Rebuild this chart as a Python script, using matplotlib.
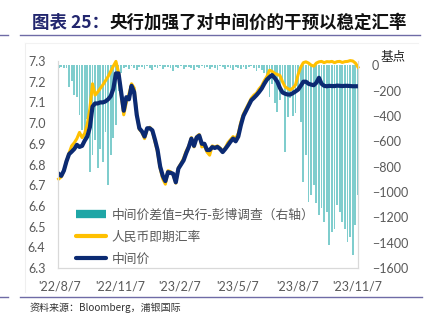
import matplotlib
matplotlib.use("Agg")
import matplotlib.pyplot as plt
from matplotlib.lines import Line2D
import pandas as pd

plt.rcParams['font.family'] = ['Noto Sans CJK SC', 'DejaVu Sans']

# data sampled every 4 days, 2022-08-05 .. 2023-11-08
dates = pd.date_range('2022-08-05', periods=116, freq='4D')

# 中间价 (CNY central parity)
fixing = [
    6.755, 6.745, 6.770, 6.815, 6.850, 6.862, 6.875, 6.895, 6.885, 6.890,
    6.915, 6.935, 6.980, 7.080, 7.095, 7.095, 7.100, 7.100, 7.105, 7.115,
    7.130, 7.165, 7.240, 7.240, 7.150, 7.060, 7.125, 7.115, 7.180, 7.150,
    7.040, 6.975, 6.960, 6.935, 6.975, 6.975, 6.965, 6.920, 6.870, 6.790,
    6.745, 6.720, 6.763, 6.760, 6.755, 6.714, 6.780, 6.800, 6.820, 6.855,
    6.885, 6.925, 6.890, 6.930, 6.940, 6.900, 6.900, 6.870, 6.870, 6.884,
    6.880, 6.885, 6.875, 6.860, 6.875, 6.892, 6.910, 6.925, 6.912, 6.935,
    6.990, 7.035, 7.060, 7.085, 7.110, 7.122, 7.135, 7.150, 7.167, 7.190,
    7.210, 7.222, 7.232, 7.218, 7.200, 7.170, 7.148, 7.142, 7.138, 7.138,
    7.145, 7.153, 7.162, 7.180, 7.200, 7.200, 7.190, 7.186, 7.183, 7.195,
    7.219, 7.190, 7.180, 7.178, 7.180, 7.179, 7.179, 7.181, 7.180, 7.179,
    7.180, 7.180, 7.179, 7.178, 7.178, 7.178,
]

# 人民币即期汇率 (CNY spot)
spot = [
    6.730, 6.740, 6.770, 6.815, 6.855, 6.890, 6.905, 6.925, 6.955, 6.930,
    6.950, 6.995, 7.070, 7.190, 7.135, 7.150, 7.168, 7.185, 7.205, 7.225,
    7.250, 7.275, 7.298, 7.245, 7.140, 7.040, 7.100, 7.140, 7.190, 7.170,
    7.045, 6.970, 6.955, 6.925, 6.970, 6.980, 6.960, 6.910, 6.860, 6.780,
    6.730, 6.705, 6.770, 6.765, 6.750, 6.710, 6.785, 6.805, 6.830, 6.865,
    6.890, 6.930, 6.885, 6.935, 6.945, 6.885, 6.890, 6.860, 6.845, 6.890,
    6.885, 6.890, 6.880, 6.865, 6.880, 6.905, 6.920, 6.935, 6.925, 6.950,
    7.005, 7.045, 7.070, 7.095, 7.120, 7.135, 7.145, 7.165, 7.180, 7.205,
    7.225, 7.255, 7.250, 7.240, 7.235, 7.230, 7.200, 7.175, 7.167, 7.160,
    7.170, 7.185, 7.235, 7.270, 7.292, 7.296, 7.290, 7.280, 7.275, 7.290,
    7.296, 7.298, 7.292, 7.297, 7.296, 7.298, 7.292, 7.297, 7.298, 7.293,
    7.297, 7.298, 7.302, 7.300, 7.290, 7.270,
]

# 中间价差值 = 央行 - 彭博调查 (bp, right axis)
gap = [
    -18, -12, -20, -25, -170, -120, -235, -248, -390, -510,
    -590, -420, -840, -710, -590, -814, -660, -765, -530, -946,
    -710, -575, -470, -200, -60, -25, -12, -30, -8, -20,
    -35, -10, -15, -28, -5, -18, -40, -12, -22, -8,
    -30, -15, -10, -25, -45, -12, -20, -8, -32, -15,
    -10, -22, -38, -12, -18, -6, -25, -14, -30, -10,
    -20, -35, -8, -16, -28, -12, -22, -40, -10, -18,
    -26, -12, -30, -15, -8, -24, -45, -20, -35, -60,
    -110, -248, -150, -300, -367, -274, -120, -683, -406, -260,
    -400, -375, -200, -445, -920, -709, -1078, -1020, -946, -1090,
    -1183, -1130, -1236, -1155, -1420, -1315, -1290, -1105, -1155, -1236,
    -1290, -1393, -1355, -1499, -1263, -1020,
]

tick_dates = pd.to_datetime(['2022-08-07', '2022-11-07', '2023-02-07',
                             '2023-05-07', '2023-08-07', '2023-11-07'])
tick_labels = ["'22/8/7", "'22/11/7", "'23/2/7", "'23/5/7", "'23/8/7", "'23/11/7"]

NAVY = '#0B2A72'
GOLD = '#FFC000'
TEAL = '#1FA6A6'
BAR = '#5FC1C1'
GRAY = '#595959'
num_font = 'Lato'

fig = plt.figure(figsize=(4.28, 3.22), dpi=100)
ax = fig.add_axes([58 / 428, 54 / 322, 300 / 428, 207 / 322])
ax2 = ax.twinx()
ax2.set_zorder(ax.get_zorder() - 1)
ax.patch.set_visible(False)

ax2.bar(dates, gap, width=2.8, color=BAR, alpha=0.8, linewidth=0)
ax2.set_ylim(-1600, 34)
ax2.set_yticks(range(-1600, 1, 200))

ax.plot(dates, spot, color=GOLD, lw=2.2, solid_joinstyle='round', clip_on=False)
ax.plot(dates, fixing, color=NAVY, lw=3.0, solid_joinstyle='round')
ax.set_ylim(6.3, 7.3)
ax.set_yticks([6.3 + 0.1 * k for k in range(11)])
ax.set_yticklabels([f'{6.3 + 0.1 * k:.1f}' for k in range(11)])
ax.set_xlim(pd.Timestamp('2022-08-04'), pd.Timestamp('2023-11-08'))
ax.set_xticks(tick_dates)
ax.set_xticklabels(tick_labels)

for a in (ax, ax2):
    for s in a.spines.values():
        s.set_color('#D9D9D9')
        s.set_linewidth(0.8)
    a.spines['top'].set_visible(False)
    a.tick_params(length=0, labelsize=9, labelcolor=GRAY)
    for lbl in a.get_xticklabels() + a.get_yticklabels():
        lbl.set_family(num_font)
ax.tick_params(axis='y', pad=9)
ax.tick_params(axis='x', pad=9)
ax2.tick_params(axis='y', pad=10)

handles = [Line2D([], [], color=TEAL, lw=6, solid_capstyle='butt'),
           Line2D([], [], color=GOLD, lw=3, solid_capstyle='round'),
           Line2D([], [], color=NAVY, lw=3, solid_capstyle='round')]
labels = ['中间价差值=央行-彭博调查（右轴）', '人民币即期汇率', '中间价']
ax.legend(handles, labels, loc='lower left', bbox_to_anchor=(0.02, -0.045),
          frameon=False, fontsize=9.2, labelcolor=GRAY, handlelength=2.4,
          handletextpad=0.45, labelspacing=0.7)

fig.text(393 / 428, 1 - 57 / 322, '基点', fontsize=9, ha='center', va='center',
         color='#222222')

# title: navy prefix followed by black text
t1 = fig.text(32 / 428, 1 - 23 / 322, '图表 25：', fontsize=12.6, fontweight='bold',
              color='#22266E', va='center')
fig.add_artist(plt.Annotation('央行加强了对中间价的干预以稳定汇率', xy=(1, 0.5),
                              xycoords=t1, va='center', ha='left',
                              fontsize=12.6, fontweight='bold', color='#111111'))

fig.text(30 / 428, 1 - 308 / 322, '资料来源：Bloomberg，浦银国际', fontsize=7.2,
         color='#333333', va='center')

# separator lines and faint frame
line_c = '#6F6BA6'
fig.add_artist(Line2D([20 / 428, 420 / 428], [1 - 35 / 322] * 2, color=line_c, lw=1))
fig.add_artist(Line2D([0, 8 / 428], [1 - 35 / 322] * 2, color=line_c, lw=1))
fig.add_artist(Line2D([20 / 428, 422 / 428], [1 - 297 / 322] * 2, color=line_c, lw=1))
fig.add_artist(Line2D([0, 8 / 428], [1 - 297 / 322] * 2, color=line_c, lw=1))
fig.add_artist(Line2D([25 / 428, 25 / 428], [1 - 292 / 322, 1 - 43 / 322],
                      color='#EFEFEF', lw=0.8))
fig.add_artist(Line2D([25 / 428, 418 / 428], [1 - 43 / 322] * 2,
                      color='#F2F2F2', lw=0.8))

fig.savefig('out.png', dpi=100)
